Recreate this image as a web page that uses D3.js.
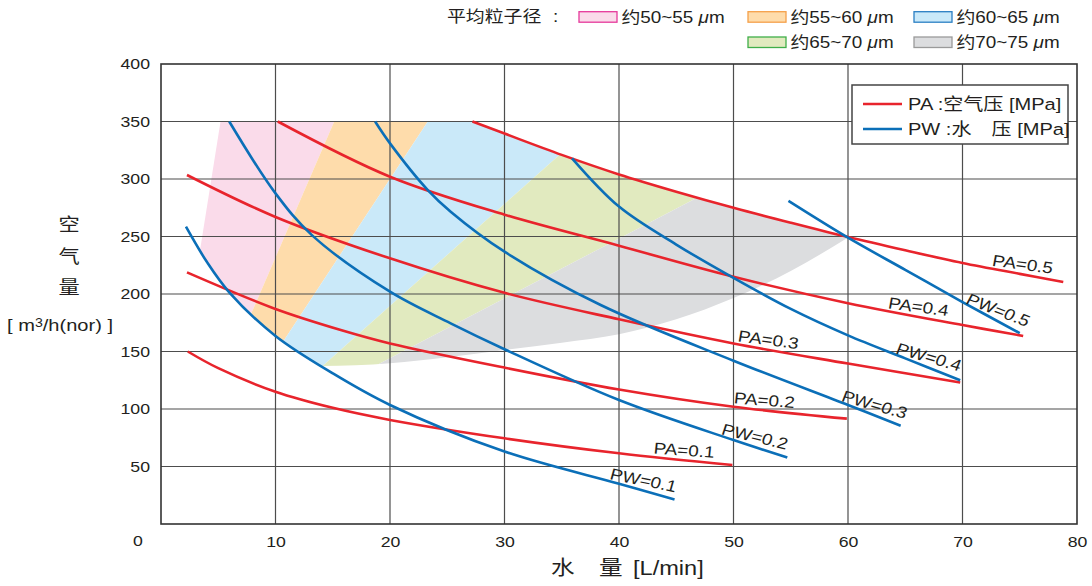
<!DOCTYPE html>
<html>
<head>
<meta charset="utf-8">
<script src="https://d3js.org/d3.v7.min.js"></script>
<style>
  body { margin: 0; background: #fff; }
  svg { display: block; }
</style>
</head>
<body>
<div id="chart"></div>
<script>
// --------------- Data ---------------
const xTicks = [10, 20, 30, 40, 50, 60, 70, 80];
const yTicks = [50, 100, 150, 200, 250, 300, 350, 400];

// PA: air pressure curves [water L/min, air m3/h]
const pa01 = [[2.34, 150], [5, 135.5], [10, 115], [15, 101], [20, 90.5], [30, 74.5], [40, 61.5], [49.9, 51.3]];
const pa02 = [[2.27, 218.8], [10, 187], [15.7, 168.7], [20, 157], [30, 136], [40, 117], [50, 102], [59.9, 91.6]];
const pa03 = [[2.27, 303.5], [10, 267], [20, 231], [30, 201], [40, 178], [50, 157], [60, 139.5], [69.8, 123]];
const pa04 = [[10.2, 350], [20, 302], [30, 269], [40, 242], [50, 215], [60, 192], [70, 173], [75.3, 163.5]];
const pa05 = [[27.2, 350], [30, 339.5], [35, 321], [40, 304], [45, 289], [50, 275], [55, 262], [60, 249.5], [65, 238], [70, 227], [75, 217.5], [78.8, 210.5]];

// PW: water pressure curves
const pw01 = [[2.18, 258.5], [4, 228], [5.96, 201.5], [10, 163.5], [15, 131], [20, 103.5], [30, 63], [40, 35], [44.85, 21.4]];
const pw02 = [[5.96, 350], [10, 287.5], [13.2, 251], [20, 202], [25.3, 174.5], [30, 152], [40, 107.8], [50, 73], [54.7, 57.8]];
const pw03 = [[18.7, 350], [20, 331], [23.3, 290.4], [25.3, 271.6], [30, 236.8], [38.4, 190.4], [50, 142], [60, 103.5], [64.6, 85.5]];
const pw04 = [[35.9, 318], [40, 276], [45, 243], [50, 214], [55, 187], [60, 164], [65, 144], [69.8, 125]];
const pw05 = [[54.8, 281], [60, 249], [65, 221], [70, 193], [75, 166]];

const paCurves = [pa01, pa02, pa03, pa04, pa05];
const pwCurves = [pw01, pw02, pw03, pw04, pw05];
const paNames = ["PA=0.1", "PA=0.2", "PA=0.3", "PA=0.4", "PA=0.5"];
const pwNames = ["PW=0.1", "PW=0.2", "PW=0.3", "PW=0.4", "PW=0.5"];
const paLabelX = [45.6, 52.6, 52.9, 66, 75.1];
const pwLabelX = [41.9, 51.6, 62, 66.75, 72.7];

// particle size zone: outer edges + band dividers
const regionTopY = 350;
const bottomEdge = [[2, 137.4], [14, 137.4], [20, 139.7], [25, 145], [30, 151.3], [35, 157.7], [40, 165], [45, 178], [50, 196.5], [55, 220], [59.9, 248.5]];
const pinkEdge = [[6.0, 400], [1.2, 100]];
const bandEdges = [
  [[0, 100], [0, 400]],
  [[4.28, 100], [17.3, 400]],
  [[6.8, 100], [26.6, 400]],
  [[9.9, 100], [43.7, 400]],
  [[11.5, 100], [69.2, 400]],
  [[80, 100], [80, 400]]
];
const bandNames = ["50~55 ", "55~60 ", "60~65 ", "65~70 ", "70~75 "];
const bandFill = ["#fadbea", "#fedcab", "#cae9f9", "#e1eabf", "#dcdddf"];
const bandStroke = ["#e6399b", "#f5a04a", "#2a7fc3", "#3fae49", "#9a9a9a"];
const bandSlot = [[0, 0], [1, 0], [2, 0], [1, 1], [2, 1]];

// --------------- Constants ---------------
const W = 1092, H = 586;
const SX = 1.18; // horizontal stretch of all lettering
const FONT = '"Liberation Sans", Arial, "Noto Sans CJK SC", sans-serif';
const RED = "#e8242c", BLUE = "#0b6fb8", INK = "#231f20";
const CURVE = d3.curveCatmullRom.alpha(0.5);

const svg = d3.select("#chart").append("svg")
  .attr("width", W).attr("height", H)
  .style("font-family", FONT);

const x = d3.scaleLinear().domain([0, 80]).range([161, 1077]);
const y = d3.scaleLinear().domain([0, 400]).range([524, 64]);

const addText = (g, px, py, str, size, anchor = "start", rot = 0) =>
  g.append("text")
    .attr("transform", `translate(${px},${py}) scale(${SX},1) rotate(${rot})`)
    .attr("font-size", size)
    .attr("text-anchor", anchor)
    .attr("dominant-baseline", "central")
    .attr("fill", INK)
    .text(str);

// --------------- Zones ---------------
const defs = svg.append("defs");
const areaPath = (pts, base, curve) => d3.area()
  .x(d => x(d[0])).y0(base).y1(d => y(d[1]))
  .curve(curve)(pts);
const poly = pts => d3.line().x(d => x(d[0])).y(d => y(d[1]))(pts) + "Z";

const cA = defs.append("clipPath").attr("id", "clipA");
cA.append("rect")
  .attr("x", x(0)).attr("y", y(regionTopY))
  .attr("width", x(pa05[0][0]) - x(0)).attr("height", y(0) - y(regionTopY));
cA.append("path").attr("d", areaPath(pa05, y(0), CURVE));

defs.append("clipPath").attr("id", "clipB")
  .append("path").attr("d", areaPath(bottomEdge, y(400), d3.curveMonotoneX));

const cC = defs.append("clipPath").attr("id", "clipC");
cC.append("path").attr("d", areaPath(pw01, y(400), CURVE));
cC.append("rect")
  .attr("x", x(pw01[pw01.length - 1][0])).attr("y", y(400))
  .attr("width", x(80) - x(pw01[pw01.length - 1][0])).attr("height", y(0) - y(400));

defs.append("clipPath").attr("id", "clipD")
  .append("path").attr("d", poly(pinkEdge.concat([[80, 100], [80, 400]])));

const bandG = svg.append("g").attr("clip-path", "url(#clipA)")
  .append("g").attr("clip-path", "url(#clipB)")
  .append("g").attr("clip-path", "url(#clipC)")
  .append("g").attr("clip-path", "url(#clipD)");

bandFill.forEach((c, i) => {
  const pts = bandEdges[i].concat(bandEdges[i + 1].slice().reverse());
  bandG.append("path").attr("d", poly(pts)).attr("fill", c);
});

// --------------- Grid & frame ---------------
const grid = svg.append("g").attr("stroke", "#4d4d4d").attr("stroke-width", 1.2);
grid.selectAll(".gx").data(xTicks.filter(d => d < 80)).join("line")
  .attr("x1", d => x(d)).attr("x2", d => x(d))
  .attr("y1", y(0)).attr("y2", y(400));
grid.selectAll(".gy").data(yTicks.filter(d => d < 400)).join("line")
  .attr("x1", x(0)).attr("x2", x(80))
  .attr("y1", d => y(d)).attr("y2", d => y(d));

svg.append("rect")
  .attr("x", x(0)).attr("y", y(400))
  .attr("width", x(80) - x(0)).attr("height", y(0) - y(400))
  .attr("fill", "none").attr("stroke", "#333").attr("stroke-width", 1.6);

// --------------- Axes ---------------
const yAxis = svg.append("g")
  .attr("transform", `translate(${x(0)},0)`)
  .call(d3.axisLeft(y).tickValues(yTicks).tickSize(0).tickPadding(0))
  .attr("font-size", 15).attr("font-family", FONT);
yAxis.select(".domain").remove();
yAxis.selectAll("text")
  .attr("transform", `scale(${SX},1)`)
  .attr("x", -11 / SX).attr("fill", INK);

const xAxis = svg.append("g")
  .attr("transform", `translate(0,${y(0)})`)
  .call(d3.axisBottom(x).tickValues(xTicks).tickSize(0).tickPadding(0))
  .attr("font-size", 15).attr("font-family", FONT);
xAxis.select(".domain").remove();
xAxis.selectAll("text")
  .attr("transform", `scale(${SX},1)`)
  .attr("y", 12).attr("fill", INK);

addText(svg, x(0) - 23, 541, "0", 15, "middle");

// axis titles
addText(svg, 69, 225, "空", 18, "middle");
addText(svg, 69, 257, "气", 18, "middle");
addText(svg, 69, 288, "量", 18, "middle");
const unitY = addText(svg, 60, 325, "", 17, "middle");
unitY.append("tspan").text("[ m");
unitY.append("tspan").attr("font-size", 12).attr("dy", -3).text("3");
unitY.append("tspan").attr("dy", 3).text("/h(nor) ]");

addText(svg, 551, 568, "水", 20);
addText(svg, 599, 568, "量", 20);
addText(svg, 633, 568, "[L/min]", 20);

// --------------- Curves ---------------
const line = d3.line().x(d => x(d[0])).y(d => y(d[1])).curve(CURVE);

const drawSeries = (curves, names, labelX, color) => {
  curves.forEach((pts, i) => {
    const path = svg.append("path")
      .attr("d", line(pts))
      .attr("fill", "none").attr("stroke", color)
      .attr("stroke-width", 2.6).attr("stroke-linecap", "butt");
    const node = path.node();
    const total = node.getTotalLength();
    const tx = x(labelX[i]);
    let lo = 0, hi = total;
    for (let k = 0; k < 40; k++) {
      const mid = (lo + hi) / 2;
      if (node.getPointAtLength(mid).x < tx) lo = mid; else hi = mid;
    }
    const p = node.getPointAtLength(lo);
    const p0 = node.getPointAtLength(Math.max(0, lo - 3));
    const p1 = node.getPointAtLength(Math.min(total, lo + 3));
    const a = Math.atan2(p1.y - p0.y, p1.x - p0.x);
    const off = 10;
    const cx = p.x + Math.sin(a) * off;
    const cy = p.y - Math.cos(a) * off;
    const rot = Math.atan(Math.tan(a) / SX) * 180 / Math.PI;
    addText(svg, cx, cy, names[i], 16, "middle", rot);
  });
};
drawSeries(paCurves, paNames, paLabelX, RED);
drawSeries(pwCurves, pwNames, pwLabelX, BLUE);

// --------------- Legend (curves) ---------------
const leg = svg.append("g");
leg.append("rect")
  .attr("x", 852).attr("y", 85).attr("width", 216).attr("height", 59)
  .attr("fill", "#fff").attr("stroke", "#444").attr("stroke-width", 1.5);
[["PA :空气压 [MPa]", RED, 104], ["PW :水　压 [MPa]", BLUE, 129]].forEach(([t, c, ly]) => {
  leg.append("line")
    .attr("x1", 863).attr("x2", 902).attr("y1", ly).attr("y2", ly)
    .attr("stroke", c).attr("stroke-width", 2.6);
  addText(leg, 908, ly, t, 17).attr("xml:space", "preserve");
});

// --------------- Legend (particle size) ---------------
const sizeLeg = svg.append("g");
addText(sizeLeg, 447, 16.7, "平均粒子径", 16);
addText(sizeLeg, 553, 16.7, ":", 16);
const colX = [579, 748, 914];
const rowY = [11.7, 37];
bandNames.forEach((name, i) => {
  const [c, r] = bandSlot[i];
  sizeLeg.append("rect")
    .attr("x", colX[c]).attr("y", rowY[r]).attr("width", 38).attr("height", 10.5)
    .attr("fill", bandFill[i]).attr("stroke", bandStroke[i]).attr("stroke-width", 1.3);
  const t = addText(sizeLeg, colX[c] + 42.5, rowY[r] + 5.5, "", 16).attr("xml:space", "preserve");
  t.append("tspan").text("约" + name);
  t.append("tspan").attr("font-style", "italic").text("μ");
  t.append("tspan").text("m");
});
</script>
</body>
</html>
